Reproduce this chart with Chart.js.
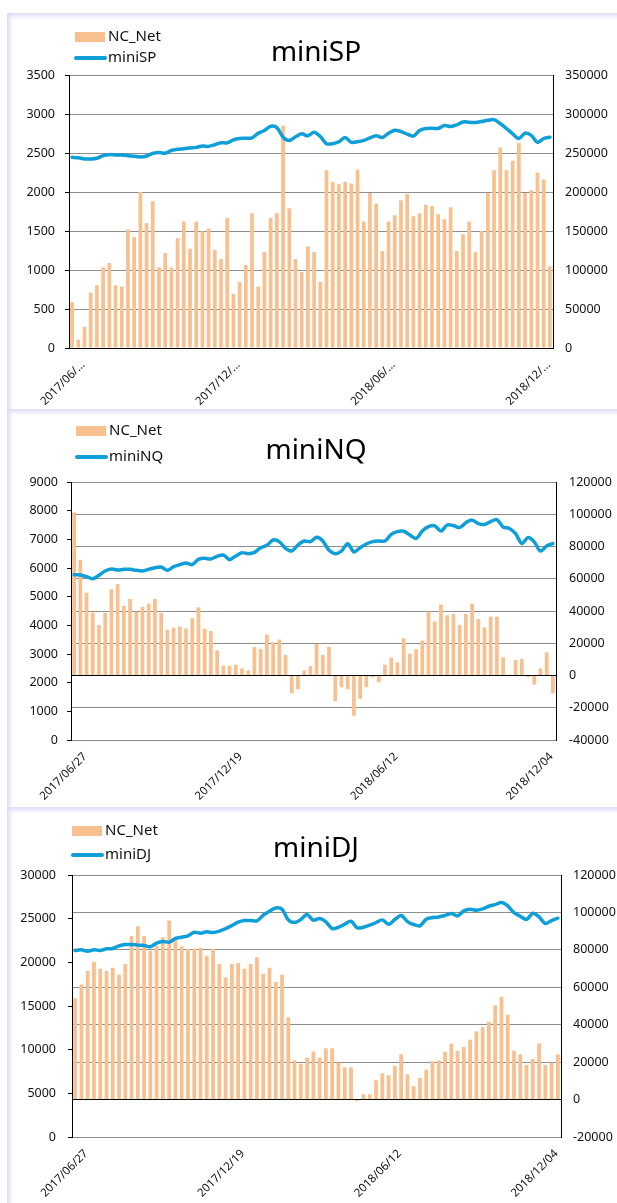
<!DOCTYPE html>
<html>
<head>
<meta charset="utf-8">
<script src="https://cdn.jsdelivr.net/npm/chart.js@4.4.1/dist/chart.umd.min.js"></script>
<style>
  html, body { margin: 0; padding: 0; background: #fff; }
  body { width: 617px; height: 1203px; overflow: hidden; position: relative; }
  .panel {
    position: absolute; left: 7px; width: 610px; background: #fff; overflow: hidden;
    box-shadow: inset 4px 4px 4px -1px #dcdcf8;
  }
  .panel canvas { position: absolute; left: 0; top: 0; }
</style>
</head>
<body>
<div class="panel" id="p1" style="top:13px;height:396px"><canvas id="c1" width="610" height="396"></canvas></div>
<div class="panel" id="p2" style="top:409px;height:398px"><canvas id="c2" width="610" height="398"></canvas></div>
<div class="panel" id="p3" style="top:807px;height:396px"><canvas id="c3" width="610" height="396"></canvas></div>
<script>
// weekly report dates (tuesday)
const weeks = [
  '2017/06/27','2017/07/04','2017/07/11','2017/07/18','2017/07/25','2017/08/01','2017/08/08','2017/08/15',
  '2017/08/22','2017/08/29','2017/09/05','2017/09/12','2017/09/19','2017/09/26','2017/10/03','2017/10/10',
  '2017/10/17','2017/10/24','2017/10/31','2017/11/07','2017/11/14','2017/11/21','2017/11/28','2017/12/05',
  '2017/12/12','2017/12/19','2017/12/26','2018/01/02','2018/01/09','2018/01/16','2018/01/23','2018/01/30',
  '2018/02/06','2018/02/13','2018/02/20','2018/02/27','2018/03/06','2018/03/13','2018/03/20','2018/03/27',
  '2018/04/03','2018/04/10','2018/04/17','2018/04/24','2018/05/01','2018/05/08','2018/05/15','2018/05/22',
  '2018/05/29','2018/06/05','2018/06/12','2018/06/19','2018/06/26','2018/07/03','2018/07/10','2018/07/17',
  '2018/07/24','2018/07/31','2018/08/07','2018/08/14','2018/08/21','2018/08/28','2018/09/04','2018/09/11',
  '2018/09/18','2018/09/25','2018/10/02','2018/10/09','2018/10/16','2018/10/23','2018/10/30','2018/11/06',
  '2018/11/13','2018/11/20','2018/11/27','2018/12/04','2018/12/11','2018/12/18'
];

// miniSP
const spNet = [58700, 10600, 27200, 71100, 80400, 103400, 108900, 80400, 78700, 151900,
  142100, 200000, 160000, 188100, 103400, 121700, 103400, 140900, 162100, 127200,
  162100, 149400, 153200, 126000, 114000, 166800, 69400, 84700, 106400, 172800,
  78700, 123000, 166800, 172800, 285000, 179100, 114000, 97400, 130200, 123000,
  84700, 228000, 213000, 210000, 213000, 211000, 229000, 162100, 198700, 185100,
  124300, 162100, 170200, 189400, 197400, 168900, 172800, 183800, 182100, 171500,
  165100, 180400, 124300, 146000, 162100, 123000, 150200, 198700, 228000, 257000,
  228000, 240000, 263000, 198700, 202100, 225000, 216000, 104700];
const spIdx = [2445, 2440, 2424, 2424, 2432, 2466, 2479, 2475, 2475, 2466,
  2458, 2449, 2462, 2496, 2508, 2496, 2534, 2547, 2555, 2564,
  2572, 2589, 2585, 2606, 2631, 2631, 2669, 2686, 2690, 2695,
  2754, 2788, 2843, 2826, 2703, 2661, 2708, 2746, 2720, 2767,
  2712, 2619, 2619, 2644, 2699, 2636, 2644, 2661, 2695, 2720,
  2699, 2754, 2792, 2775, 2742, 2716, 2788, 2814, 2818, 2814,
  2852, 2839, 2860, 2898, 2894, 2890, 2903, 2919, 2928, 2877,
  2814, 2746, 2686, 2754, 2725, 2636, 2686, 2703];

// miniNQ
const nqNet = [101200, 71700, 51300, 38960, 31250, 38750, 53540, 56670, 43125, 47500,
  39580, 42500, 44580, 47500, 38750, 28330, 29580, 30420, 29170, 35625,
  42290, 28960, 27500, 15625, 6040, 6040, 6670, 4375, 3125, 17700,
  16460, 25420, 20625, 22290, 12710, -11040, -8540, 3125, 5830, 19580,
  12710, 17920, -16040, -7290, -8540, -25000, -14580, -7290, -1250, -4170,
  6670, 11040, 8125, 23125, 13540, 16250, 21670, 39580, 33540, 43960,
  37290, 38125, 31250, 38125, 44580, 35000, 29790, 36460, 36460, 11250,
  625, 9580, 10420, -1040, -5625, 4375, 14375, -11040];
const nqIdx = [5767, 5756, 5698, 5628, 5744, 5895, 5965, 5930, 5953, 5953,
  5919, 5895, 5953, 6012, 6035, 5919, 6047, 6116, 6174, 6116,
  6302, 6337, 6314, 6407, 6453, 6291, 6419, 6535, 6500, 6547,
  6709, 6791, 6977, 6919, 6686, 6593, 6802, 6942, 6919, 7070,
  6942, 6616, 6500, 6593, 6849, 6558, 6709, 6837, 6919, 6942,
  6940, 7170, 7270, 7280, 7150, 7030, 7290, 7440, 7470, 7290,
  7500, 7480, 7410, 7580, 7670, 7550, 7520, 7620, 7690, 7430,
  7380, 7200, 6850, 7060, 6910, 6590, 6770, 6850];

// miniDJ
const djNet = [54000, 61500, 68670, 73600, 69900, 68670, 70440, 66730, 72390, 87430,
  92570, 87430, 79470, 82300, 86730, 95750, 85300, 81770, 80530, 80530,
  81060, 76810, 80530, 72390, 65300, 72390, 72920, 69900, 72390, 76100,
  67260, 70440, 62800, 66730, 43900, 20980, 19200, 22400, 25600, 22400,
  27380, 27380, 19730, 17240, 17240, -900, 2840, 2840, 10310, 14040,
  12980, 17960, 24180, 13510, 7110, 11560, 16000, 20440, 20980, 25600,
  29870, 26130, 28090, 32000, 36440, 38760, 41600, 50310, 54930, 45330,
  26130, 24180, 18490, 21690, 30040, 18490, 19730, 24180];
const djIdx = [21360, 21435, 21280, 21435, 21360, 21550, 21590, 21890, 22040, 22040,
  21970, 21930, 21780, 22200, 22390, 22310, 22730, 22880, 23030, 23450,
  23340, 23490, 23410, 23570, 23870, 24210, 24590, 24780, 24780, 24750,
  25390, 25850, 26230, 26080, 24860, 24560, 24900, 25470, 24820, 25010,
  24630, 23870, 24020, 24370, 24710, 23950, 24020, 24250, 24560, 24860,
  24370, 24900, 25360, 24670, 24330, 24180, 24940, 25130, 25200, 25360,
  25580, 25320, 25890, 26080, 25960, 26120, 26420, 26610, 26840, 26460,
  25700, 25280, 24900, 25620, 25200, 24440, 24780, 25050];

const BAR_COLOR = '#f9c08f';
const LINE_COLOR = '#0f9fd8';
const GRID_COLOR = '#8e8e8e';
const FONT = "'Noto Sans', 'DejaVu Sans', sans-serif";

// draws the title and the stacked legend at the top-left, like the excel sheet
const panelDeco = {
  id: 'panelDeco',
  afterDraw(chart, args, opts) {
    const ctx = chart.ctx;
    const bar = chart.data.datasets.find(d => d.type === 'bar');
    const line = chart.data.datasets.find(d => d.type === 'line');
    ctx.save();
    ctx.textBaseline = 'middle';
    ctx.fillStyle = '#000';
    ctx.font = '28px ' + FONT;
    ctx.textAlign = 'center';
    ctx.fillText(opts.title, opts.titleX, opts.titleY);

    ctx.font = '15px ' + FONT;
    ctx.textAlign = 'left';
    // bar entry
    ctx.fillStyle = BAR_COLOR;
    ctx.fillRect(opts.legX, opts.row1 - 5, 30, 10);
    ctx.fillStyle = '#111';
    ctx.fillText(bar.label, opts.legX + 33, opts.row1);
    // line entry
    ctx.strokeStyle = LINE_COLOR;
    ctx.lineWidth = 4;
    ctx.lineCap = 'round';
    ctx.beginPath();
    ctx.moveTo(opts.legX + 1, opts.row2);
    ctx.lineTo(opts.legX + 30, opts.row2);
    ctx.stroke();
    ctx.fillText(line.label, opts.legX + 33, opts.row2);
    ctx.restore();
  }
};

function makeChart(canvasId, cfg) {
  const W = cfg.width, H = cfg.height, L = cfg.plot;
  return new Chart(document.getElementById(canvasId), {
    data: {
      labels: weeks,
      datasets: [
        {
          type: 'line', label: cfg.lineName, data: cfg.idx, yAxisID: 'y', order: 0,
          borderColor: LINE_COLOR, borderWidth: 3.5, pointRadius: 0, tension: 0.3,
          borderJoinStyle: 'round', borderCapStyle: 'round'
        },
        {
          type: 'bar', label: 'NC_Net', data: cfg.net, yAxisID: 'y1', order: 1,
          backgroundColor: BAR_COLOR, barPercentage: 0.6, categoryPercentage: 1.0
        }
      ]
    },
    options: {
      responsive: false,
      animation: false,
      devicePixelRatio: 1,
      layout: { padding: { left: 0, right: 0, top: L.top, bottom: 0 } },
      plugins: {
        legend: { display: false },
        tooltip: { enabled: false },
        panelDeco: cfg.deco
      },
      scales: {
        x: {
          type: 'category',
          offset: true,
          grid: { display: false },
          border: { color: cfg.xBorder, width: 1 },
          ticks: {
            autoSkip: false, minRotation: 45, maxRotation: 45, padding: 2, labelOffset: 11,
            color: '#111', font: { family: FONT, size: 11.5 },
            callback(v, i) {
              if (i % 25 !== 0) return '';
              const s = this.getLabelForValue(v);
              return cfg.shortDates ? s.slice(0, 8) + '...' : s;
            }
          },
          afterFit(s) { s.height = H - L.bottom; }
        },
        y: {
          position: 'left', min: cfg.yMin, max: cfg.yMax,
          grid: { drawOnChartArea: false, drawTicks: true, tickLength: 4, tickColor: '#000' },
          border: { color: '#000', width: 1 },
          ticks: {
            stepSize: cfg.yStep, padding: cfg.leftPad, color: '#111',
            font: { family: FONT, size: 12.5 }, callback: v => String(v)
          },
          afterFit(s) { s.width = L.left; }
        },
        y1: {
          position: 'right', min: cfg.y1Min, max: cfg.y1Max,
          grid: {
            drawOnChartArea: true, drawTicks: false,
            color: c => (c.tick && c.tick.value === 0 ? '#000' : GRID_COLOR)
          },
          border: { color: '#000', width: 1 },
          ticks: {
            stepSize: cfg.y1Step, padding: cfg.rightPad, color: '#111',
            font: { family: FONT, size: 12.5 }, callback: v => String(v)
          },
          afterFit(s) { s.width = W - L.right; }
        }
      }
    },
    plugins: [panelDeco]
  });
}

makeChart('c1', {
  width: 610, height: 396, plot: { left: 62, right: 546, top: 62, bottom: 335 },
  lineName: 'miniSP', idx: spIdx, net: spNet, shortDates: true, xBorder: '#000',
  yMin: 0, yMax: 3500, yStep: 500, y1Min: 0, y1Max: 350000, y1Step: 50000,
  leftPad: 10, rightPad: 12,
  deco: { title: 'miniSP', titleX: 309, titleY: 40, legX: 68, row1: 24, row2: 45 }
});

makeChart('c2', {
  width: 610, height: 398, plot: { left: 64, right: 549, top: 73, bottom: 331 },
  lineName: 'miniNQ', idx: nqIdx, net: nqNet, shortDates: false, xBorder: GRID_COLOR,
  yMin: 0, yMax: 9000, yStep: 1000, y1Min: -40000, y1Max: 120000, y1Step: 20000,
  leftPad: 9, rightPad: 13,
  deco: { title: 'miniNQ', titleX: 309, titleY: 42, legX: 69, row1: 22, row2: 48 }
});

makeChart('c3', {
  width: 610, height: 396, plot: { left: 65, right: 554, top: 68, bottom: 330 },
  lineName: 'miniDJ', idx: djIdx, net: djNet, shortDates: false, xBorder: GRID_COLOR,
  yMin: 0, yMax: 30000, yStep: 5000, y1Min: -20000, y1Max: 120000, y1Step: 20000,
  leftPad: 12, rightPad: 12,
  deco: { title: 'miniDJ', titleX: 309, titleY: 42, legX: 65, row1: 24, row2: 48 }
});
</script>
</body>
</html>
